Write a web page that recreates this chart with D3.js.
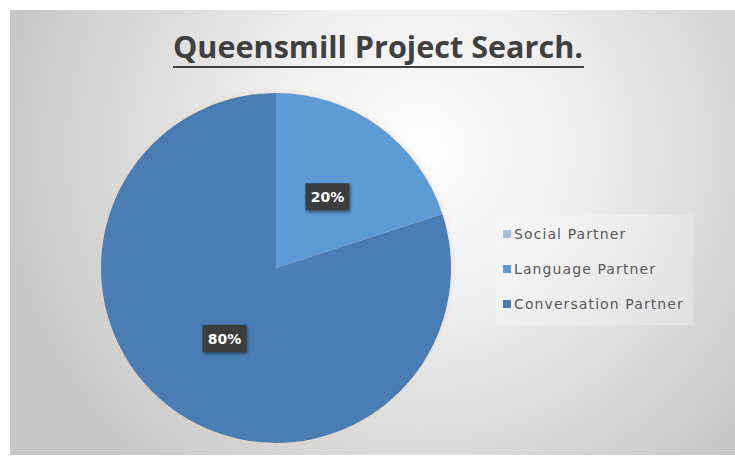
<!DOCTYPE html>
<html><head><meta charset="utf-8">
<script src="https://cdn.jsdelivr.net/npm/d3@7"></script>
<style>html,body{margin:0;padding:0;background:#fff;overflow:hidden}</style>
</head><body>
<svg id="c" width="735" height="457"></svg>
<script>
const title = "Queensmill Project Search.";
const categories = ["Social Partner", "Language Partner", "Conversation Partner"];
const values = [0, 20, 80];
const labels = ["0%", "20%", "80%"];
const colors = ["#a6c1de", "#5b9bd5", "#4a7eb4"];

const svg = d3.select("#c");
const defs = svg.append("defs");
const rg = defs.append("radialGradient").attr("id","bg").attr("gradientUnits","userSpaceOnUse")
  .attr("cx",420).attr("cy",150).attr("r",430);
rg.append("stop").attr("offset","0").attr("stop-color","#fdfdfd");
rg.append("stop").attr("offset","0.35").attr("stop-color","#f0f0f0");
rg.append("stop").attr("offset","1").attr("stop-color","#c6c6c6");
const f = defs.append("filter").attr("id","glow").attr("x","-20%").attr("y","-20%").attr("width","140%").attr("height","140%");
f.append("feGaussianBlur").attr("in","SourceAlpha").attr("stdDeviation",3).attr("result","b");
f.append("feFlood").attr("flood-color","#e8c9a8").attr("flood-opacity",0.6);
f.append("feComposite").attr("in2","b").attr("operator","in").attr("result","s");
const m = f.append("feMerge"); m.append("feMergeNode").attr("in","s"); m.append("feMergeNode").attr("in","SourceGraphic");
const ls = defs.append("filter").attr("id","lshadow").attr("x","-30%").attr("y","-30%").attr("width","160%").attr("height","160%");
ls.append("feDropShadow").attr("dx",1).attr("dy",2).attr("stdDeviation",1.5).attr("flood-color","#000").attr("flood-opacity",0.45);

svg.append("rect").attr("x",10).attr("y",10).attr("width",725).attr("height",445).attr("fill","url(#bg)");

// Title
svg.append("text").attr("x",378).attr("y",58).attr("text-anchor","middle")
  .attr("font-family","Open Sans, sans-serif").attr("font-weight","bold").attr("font-size",31)
  .attr("fill","#404040").attr("textLength",410).attr("lengthAdjust","spacingAndGlyphs").text(title);
svg.append("line").attr("x1",173).attr("x2",584).attr("y1",67).attr("y2",67).attr("stroke","#404040").attr("stroke-width",2.2);

// Pie
const cx = 276, cy = 268, r = 175;
const pie = d3.pie().sort(null).value(d => d.v);
const arcs = pie(categories.map((c,i)=>({c, v: values[i], i})));
const arc = d3.arc().innerRadius(0).outerRadius(r);
const g = svg.append("g").attr("transform",`translate(${cx},${cy})`);
g.append("g").attr("filter","url(#glow)").selectAll("path").data(arcs.filter(d=>d.data.v>0)).join("path")
  .attr("d",arc).attr("fill",d=>colors[d.data.i]);

// data labels
const lg = g.selectAll("g.lab").data(arcs.filter(d=>d.data.v>0)).join("g").attr("class","lab")
  .attr("transform",d=>`translate(${arc.centroid(d)})`);
lg.append("rect").attr("x",-22).attr("y",-14).attr("width",44).attr("height",27)
  .attr("fill","#3d3d3d").attr("filter","url(#lshadow)");
lg.append("text").attr("text-anchor","middle").attr("dy","0.35em")
  .attr("font-family","DejaVu Sans, sans-serif").attr("font-weight","bold").attr("font-size",14)
  .attr("fill","#ffffff").text(d=>labels[d.data.i]);

// Legend
svg.append("rect").attr("x",496).attr("y",215).attr("width",197).attr("height",110).attr("fill","#ffffff").attr("opacity",0.25);
const leg = svg.append("g").selectAll("g").data(categories).join("g")
  .attr("transform",(d,i)=>`translate(503,${234+i*35})`);
leg.append("rect").attr("x",0).attr("y",-4).attr("width",8).attr("height",8).attr("fill",(d,i)=>colors[i]);
leg.append("text").attr("x",11).attr("dy","0.35em").attr("font-family","DejaVu Sans, sans-serif")
  .attr("font-size",14).attr("letter-spacing",1.1).attr("fill","#595959").text(d=>d);
</script>
</body></html>
